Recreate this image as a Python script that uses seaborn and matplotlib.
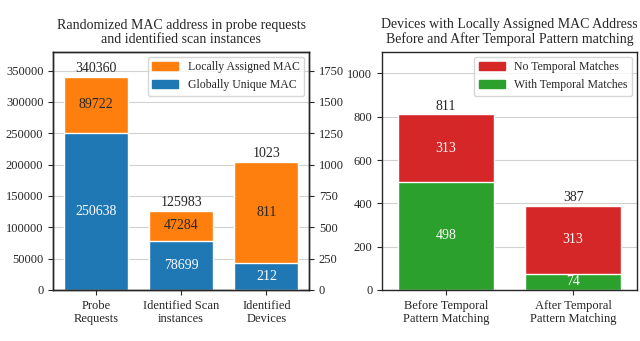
import matplotlib
matplotlib.use("Agg")
import matplotlib.pyplot as plt
import pandas as pd
import seaborn as sns
from matplotlib.patches import Patch

# left panel data
categories = ["Probe\nRequests", "Identified Scan\ninstances", "Identified\nDevices"]
global_mac = [250638, 78699, 212]
local_mac = [89722, 47284, 811]
totals = [340360, 125983, 1023]

# right panel data
phases = ["Before Temporal\nPattern Matching", "After Temporal\nPattern Matching"]
with_match = [498, 74]
no_match = [313, 313]
phase_totals = [811, 387]

sns.set_style("ticks", {"axes.grid": True, "grid.color": ".82", "axes.edgecolor": ".15"})
plt.rcParams["font.family"] = ["Liberation Serif", "DejaVu Serif"]
plt.rcParams["xtick.labelsize"] = 9
plt.rcParams["ytick.labelsize"] = 9

ORANGE, BLUE, RED, GREEN = "#ff7f0e", "#1f77b4", "#d62728", "#2ca02c"

fig = plt.figure(figsize=(6.4, 3.41), dpi=100)
ax1 = fig.add_axes([0.083, 0.150, 0.400, 0.698])
ax3 = fig.add_axes([0.597, 0.150, 0.398, 0.698])

df = pd.DataFrame({"cat": categories, "glob": global_mac, "loc": local_mac, "tot": totals})
left_df = df.iloc[:2]
dev_df = df.iloc[2:]

# left axis: probe requests + scan instances
sns.barplot(data=left_df, x="cat", y="tot", order=categories, color=ORANGE,
            saturation=1, width=0.75, ax=ax1, zorder=2)
sns.barplot(data=left_df, x="cat", y="glob", order=categories, color=BLUE,
            saturation=1, width=0.75, ax=ax1, zorder=2)
ax1.set_ylim(0, 380000)
ax1.set_yticks(range(0, 350001, 50000))
ax1.set_xlim(-0.5, 2.5)
ax1.set_xlabel("")
ax1.set_ylabel("")
ax1.set_axisbelow(True)

# twin axis: identified devices
ax2 = ax1.twinx()
sns.barplot(data=dev_df, x="cat", y="tot", order=categories, color=ORANGE,
            saturation=1, width=0.75, ax=ax2)
sns.barplot(data=dev_df, x="cat", y="glob", order=categories, color=BLUE,
            saturation=1, width=0.75, ax=ax2)
ax2.set_ylim(0, 1900)
ax2.set_yticks(range(0, 1751, 250))
ax2.set_xlim(-0.5, 2.5)
ax2.grid(False)
ax2.set_ylabel("")
ax2.set_xlabel("")

for i in range(2):
    ax1.text(i, totals[i] + 3000, str(totals[i]), ha="center", va="bottom", fontsize=10)
    ax1.text(i, global_mac[i] + local_mac[i] / 2, str(local_mac[i]), ha="center", va="center", fontsize=10)
    ax1.text(i, global_mac[i] / 2, str(global_mac[i]), ha="center", va="center", fontsize=10, color="white")
ax2.text(2, totals[2] + 15, str(totals[2]), ha="center", va="bottom", fontsize=10)
ax2.text(2, global_mac[2] + local_mac[2] / 2, str(local_mac[2]), ha="center", va="center", fontsize=10)
ax2.text(2, global_mac[2] / 2, str(global_mac[2]), ha="center", va="center", fontsize=10, color="white")

ax1.set_title("Randomized MAC address in probe requests\nand identified scan instances", fontsize=10, linespacing=1.15)
ax2.legend(handles=[Patch(color=ORANGE, label="Locally Assigned MAC"),
                    Patch(color=BLUE, label="Globally Unique MAC")],
           loc="upper right", fontsize=8.5, borderaxespad=0.4, handlelength=2.2)

# right panel
rdf = pd.DataFrame({"phase": phases, "with": with_match, "no": no_match, "tot": phase_totals})
sns.barplot(data=rdf, x="phase", y="tot", order=phases, color=RED,
            saturation=1, width=0.75, ax=ax3, zorder=2)
sns.barplot(data=rdf, x="phase", y="with", order=phases, color=GREEN,
            saturation=1, width=0.75, ax=ax3, zorder=2)
ax3.set_ylim(0, 1100)
ax3.set_yticks(range(0, 1001, 200))
ax3.set_xlim(-0.5, 1.5)
ax3.set_xlabel("")
ax3.set_ylabel("")
ax3.set_axisbelow(True)
for i in range(2):
    ax3.text(i, phase_totals[i] + 8, str(phase_totals[i]), ha="center", va="bottom", fontsize=10)
    ax3.text(i, with_match[i] + no_match[i] / 2, str(no_match[i]), ha="center", va="center", fontsize=10, color="white")
    ax3.text(i, with_match[i] / 2, str(with_match[i]), ha="center", va="center", fontsize=10, color="white")
ax3.set_title("Devices with Locally Assigned MAC Address\nBefore and After Temporal Pattern matching", fontsize=10, linespacing=1.15)
ax3.legend(handles=[Patch(color=RED, label="No Temporal Matches"),
                    Patch(color=GREEN, label="With Temporal Matches")],
           loc="upper right", fontsize=8.5, borderaxespad=0.4, handlelength=2.2)

for ax in (ax1, ax2, ax3):
    for s in ax.spines.values():
        s.set_visible(True)
        s.set_linewidth(1.0)

fig.savefig("out.png", dpi=100)
